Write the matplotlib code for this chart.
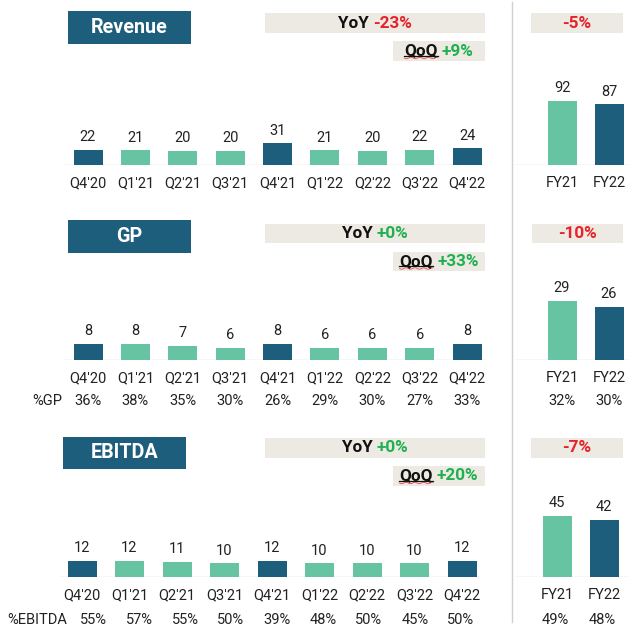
import matplotlib
matplotlib.use('Agg')
import matplotlib.pyplot as plt
from matplotlib.patches import Rectangle
from matplotlib.lines import Line2D
from matplotlib.transforms import blended_transform_factory
import numpy as np

plt.rcParams['font.family'] = ['Roboto', 'DejaVu Sans']

# ---------------- data ----------------
quarters = ["Q4'20", "Q1'21", "Q2'21", "Q3'21", "Q4'21", "Q1'22", "Q2'22", "Q3'22", "Q4'22"]
years = ["FY21", "FY22"]

revenue_q = [22, 21, 20, 20, 31, 21, 20, 22, 24]
revenue_fy = [92, 87]

gp_q = [8, 8, 7, 6, 8, 6, 6, 6, 8]
gp_fy = [29, 26]
gp_pct_q = ["36%", "38%", "35%", "30%", "26%", "29%", "30%", "27%", "33%"]
gp_pct_fy = ["32%", "30%"]

ebitda_q = [12, 12, 11, 10, 12, 10, 10, 10, 12]
ebitda_fy = [45, 42]
ebitda_pct_q = ["55%", "57%", "55%", "50%", "39%", "48%", "50%", "45%", "50%"]
ebitda_pct_fy = ["49%", "48%"]

titles = ["Revenue", "GP", "EBITDA"]
yoy = ["-23%", "+0%", "+0%"]
qoq = ["+9%", "+33%", "+20%"]
fy_change = ["-5%", "-10%", "-7%"]
pct_labels = [None, "%GP", "%EBITDA"]
dark_quarters = ["Q4'20", "Q4'21", "Q4'22"]

# ---------------- style ----------------
DARK = "#1c5e7b"
LIGHT = "#66c4a3"
BEIGE = "#eceae2"
RED = "#e6232b"
GREEN = "#1fb052"
TXT = "#222222"
GRID = "#d8d8d8"
FS = 10.5
BOX_FS = 12.3
TITLE_FS = 14.2

W, H = 629, 626
fig = plt.figure(figsize=(W / 100, H / 100), dpi=100)
fig.patch.set_facecolor("white")
renderer = fig.canvas.get_renderer()


def fx(px):
    return px / W


def fy(py):
    return 1 - py / H


def box(x1, y1, x2, y2, color):
    fig.patches.append(Rectangle((fx(x1), fy(y2)), fx(x2) - fx(x1), fy(y1) - fy(y2),
                                 transform=fig.transFigure, facecolor=color,
                                 edgecolor="none", zorder=0))


def two_tone(cx, cy, parts, size, underline_first=False):
    texts = []
    for s, c in parts:
        t = fig.text(0, fy(cy), s, color=c, fontsize=size, fontweight="bold",
                     ha="left", va="center", transform=fig.transFigure)
        texts.append(t)
    widths = [t.get_window_extent(renderer).width for t in texts]
    space = size * 0.33
    total = sum(widths) + space * (len(texts) - 1)
    x = cx - total / 2
    for t, w in zip(texts, widths):
        t.set_x(fx(x))
        x += w + space
    if underline_first:
        bb = texts[0].get_window_extent(renderer)
        x0, x1 = bb.x0, bb.x1
        ybase = H - bb.y0  # pixel from top
        uy = ybase - 2.5
        fig.lines.append(Line2D([fx(x0), fx(x1)], [fy(uy), fy(uy)], color="#111111",
                                lw=0.9, transform=fig.transFigure))
        xs = np.linspace(x0, x1, 40)
        ys = uy + 2.0 + 0.7 * np.sin((xs - x0) / 1.4)
        fig.lines.append(Line2D(fx(xs), fy(ys), color="#e05050", lw=0.6,
                                transform=fig.transFigure))


panels = [
    dict(q=revenue_q, f=revenue_fy, pq=None, pf=None, base=165, scale=0.70, x0=88, dx=47.4,
         fyx=(562, 609), pct_y=None, pct_lx=None, pct_x0=None, pct_dx=None,
         title_box=(68, 11, 191, 44),
         yoy_box=(265, 13, 485, 33), qoq_box=(393, 41, 485, 61), fy_box=(531, 13, 623, 33),
         line=(65, 485)),
    dict(q=gp_q, f=gp_fy, pq=gp_pct_q, pf=gp_pct_fy, base=360, scale=2.05, x0=88, dx=47.4,
         fyx=(562, 609), pct_y=401, pct_lx=47, pct_x0=88, pct_dx=47.4,
         title_box=(68, 220, 191, 253),
         yoy_box=(265, 224, 485, 243), qoq_box=(393, 252, 485, 271), fy_box=(532, 224, 623, 243),
         line=(65, 485)),
    dict(q=ebitda_q, f=ebitda_fy, pq=ebitda_pct_q, pf=ebitda_pct_fy, base=577, scale=1.36, x0=82, dx=47.5,
         fyx=(557, 604), pct_y=620, pct_lx=37, pct_x0=93, pct_dx=46.0,
         title_box=(63, 437, 186, 469),
         yoy_box=(265, 438, 485, 458), qoq_box=(393, 466, 485, 486), fy_box=(531, 438, 623, 458),
         line=(60, 480)),
]

BARW_PX = 29
TOP_PX = 110

for i, p in enumerate(panels):
    base, scale = p["base"], p["scale"]
    # quarterly axes
    left = p["x0"] - 0.5 * p["dx"]
    right = p["x0"] + 8.5 * p["dx"]
    axq = fig.add_axes([fx(left), fy(base), fx(right) - fx(left), (TOP_PX) / H])
    axq.set_xlim(-0.5, 8.5)
    axq.set_ylim(0, TOP_PX / scale)
    colors = [DARK if q in dark_quarters else LIGHT for q in quarters]
    xq = np.arange(len(quarters))
    axq.bar(xq, p["q"], width=BARW_PX / p["dx"], color=colors, zorder=2)
    for x, v in zip(xq, p["q"]):
        axq.annotate(str(v), (x, v), xytext=(0, 4), textcoords="offset points",
                     ha="center", va="bottom", fontsize=FS, color=TXT)
    axq.set_xticks(xq, quarters)

    # FY axes
    fl, fr = 515, 629
    unit = p["fyx"][1] - p["fyx"][0]
    axf = fig.add_axes([fx(fl), fy(base), fx(fr) - fx(fl), TOP_PX / H])
    axf.set_xlim(-(p["fyx"][0] - fl) / unit, (fr - p["fyx"][0]) / unit)
    axf.set_ylim(0, TOP_PX / scale)
    xf = np.arange(len(years))
    axf.bar(xf, p["f"], width=BARW_PX / unit, color=[LIGHT, DARK], zorder=2)
    for x, v in zip(xf, p["f"]):
        axf.annotate(str(v), (x, v), xytext=(0, 4), textcoords="offset points",
                     ha="center", va="bottom", fontsize=FS, color=TXT)
    axf.set_xticks(xf, years)

    for ax in (axq, axf):
        ax.patch.set_alpha(0)
        for s in ("top", "right", "left", "bottom"):
            ax.spines[s].set_visible(False)
        ax.set_yticks([])
        ax.tick_params(axis="x", length=0, pad=8, labelsize=FS, labelcolor=TXT)
    l0, l1 = p["line"]
    axq.axhline(0, xmin=(l0 - left) / (right - left), xmax=(l1 - left) / (right - left),
                color=GRID, lw=1, zorder=1)
    axf.axhline(0, color=GRID, lw=1, zorder=1)

    # percentage rows (slightly different column spacing than the bars in the source)
    if p["pq"] is not None:
        trq = blended_transform_factory(axq.transData, fig.transFigure)
        for x, s in zip(xq, p["pq"]):
            px = p["pct_x0"] + p["pct_dx"] * x
            xd = (px - left) / p["dx"] - 0.5
            axq.text(xd, fy(p["pct_y"]), s, transform=trq, ha="center", va="center",
                     fontsize=FS, color=TXT)
        trf = blended_transform_factory(axf.transData, fig.transFigure)
        for x, s in zip(xf, p["pf"]):
            axf.text(x - 0.04 * (i == 2), fy(p["pct_y"]), s, transform=trf, ha="center",
                     va="center", fontsize=FS, color=TXT)
        fig.text(fx(p["pct_lx"]), fy(p["pct_y"]), pct_labels[i], ha="center", va="center",
                 fontsize=FS, color=TXT)

    # boxes
    x1, y1, x2, y2 = p["title_box"]
    box(x1, y1, x2, y2, DARK)
    fig.text(fx((x1 + x2) / 2), fy((y1 + y2) / 2), titles[i], color="white", fontsize=TITLE_FS,
             fontweight="bold", ha="center", va="center")

    x1, y1, x2, y2 = p["yoy_box"]
    box(x1, y1, x2, y2, BEIGE)
    two_tone((x1 + x2) / 2, (y1 + y2) / 2,
             [("YoY", "#111111"), (yoy[i], RED if yoy[i].startswith("-") else GREEN)], BOX_FS)

    x1, y1, x2, y2 = p["qoq_box"]
    box(x1, y1, x2, y2, BEIGE)
    two_tone((x1 + x2) / 2, (y1 + y2) / 2,
             [("QoQ", "#111111"), (qoq[i], RED if qoq[i].startswith("-") else GREEN)], BOX_FS,
             underline_first=True)

    x1, y1, x2, y2 = p["fy_box"]
    box(x1, y1, x2, y2, BEIGE)
    two_tone((x1 + x2) / 2, (y1 + y2) / 2,
             [(fy_change[i], RED if fy_change[i].startswith("-") else GREEN)], BOX_FS)

# vertical separator
fig.lines.append(Line2D([fx(512), fx(512)], [fy(2), fy(622)], color="#d0d0d0", lw=1,
                        transform=fig.transFigure))

fig.savefig("out.png", dpi=100, facecolor="white")
